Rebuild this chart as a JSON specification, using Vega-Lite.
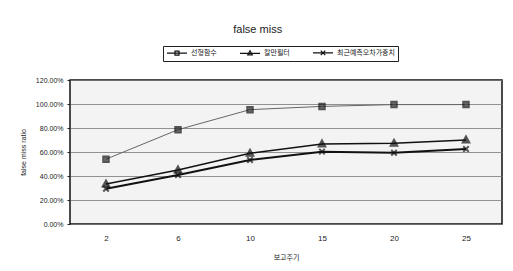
{
  "$schema": "https://vega.github.io/schema/vega-lite/v6.json",
  "width": 432,
  "height": 144,
  "autosize": "none",
  "padding": {"left": 70, "top": 80, "right": 11, "bottom": 47},
  "background": "white",
  "title": {
    "text": "false miss",
    "font": "Liberation Sans",
    "fontSize": 11,
    "fontWeight": "normal",
    "color": "#222",
    "anchor": "middle",
    "frame": "bounds",
    "offset": 11,
    "dx": -3
  },
  "data": {
    "values": [
      {"period": 2, "series": "선형함수", "ratio": 0.54},
      {"period": 6, "series": "선형함수", "ratio": 0.786},
      {"period": 10, "series": "선형함수", "ratio": 0.953},
      {"period": 15, "series": "선형함수", "ratio": 0.98},
      {"period": 20, "series": "선형함수", "ratio": 0.995},
      {"period": 25, "series": "선형함수", "ratio": 0.995},
      {"period": 2, "series": "칼만필터", "ratio": 0.333},
      {"period": 6, "series": "칼만필터", "ratio": 0.45},
      {"period": 10, "series": "칼만필터", "ratio": 0.589},
      {"period": 15, "series": "칼만필터", "ratio": 0.667},
      {"period": 20, "series": "칼만필터", "ratio": 0.672},
      {"period": 25, "series": "칼만필터", "ratio": 0.70},
      {"period": 2, "series": "최근예측오차가중치", "ratio": 0.294},
      {"period": 6, "series": "최근예측오차가중치", "ratio": 0.408},
      {"period": 10, "series": "최근예측오차가중치", "ratio": 0.533},
      {"period": 15, "series": "최근예측오차가중치", "ratio": 0.603},
      {"period": 20, "series": "최근예측오차가중치", "ratio": 0.594},
      {"period": 25, "series": "최근예측오차가중치", "ratio": 0.625}
    ]
  },
  "encoding": {
    "x": {
      "field": "period",
      "type": "ordinal",
      "title": "보고주기",
      "axis": {
        "labelAngle": 0,
        "labelFont": "Liberation Sans",
        "labelFontSize": 8,
        "labelColor": "#222",
        "labelPadding": 10,
        "ticks": false,
        "domain": false,
        "titleFont": "Noto Sans CJK KR",
        "titleFontSize": 7,
        "titleFontWeight": "normal",
        "titleColor": "#222",
        "titlePadding": 11
      }
    },
    "y": {
      "field": "ratio",
      "type": "quantitative",
      "title": "false miss ratio",
      "scale": {"domain": [0, 1.2], "nice": false},
      "axis": {
        "values": [0, 0.2, 0.4, 0.6, 0.8, 1.0, 1.2],
        "format": ".2%",
        "labelFont": "Liberation Sans",
        "labelFontSize": 7,
        "labelColor": "#222",
        "tickSize": 3,
        "tickColor": "#222",
        "labelPadding": 4,
        "domain": false,
        "gridColor": "#777",
        "gridWidth": 0.8,
        "titleFont": "Liberation Sans",
        "titleFontSize": 7,
        "titleFontWeight": "normal",
        "titleColor": "#222",
        "titlePadding": 9
      }
    }
  },
  "layer": [
    {
      "mark": {"type": "line"},
      "encoding": {
        "color": {
          "field": "series",
          "type": "nominal",
          "scale": {"domain": ["선형함수", "칼만필터", "최근예측오차가중치"], "range": ["#666666", "#111111", "#111111"]},
          "legend": null
        },
        "strokeWidth": {
          "field": "series",
          "type": "nominal",
          "scale": {"domain": ["선형함수", "칼만필터", "최근예측오차가중치"], "range": [1, 2, 2]},
          "legend": null
        }
      }
    },
    {
      "mark": {"type": "point", "filled": false, "strokeWidth": 2, "size": 30},
      "encoding": {
        "shape": {
          "field": "series",
          "type": "nominal",
          "scale": {"domain": ["선형함수", "칼만필터", "최근예측오차가중치"], "range": ["M-1,-1H1V1H-1Z", "M0,-1.3L1.2,0.9H-1.2Z", "M-1,-1L1,1M1,-1L-1,1"]},
          "legend": null
        },
        "fill": {
          "field": "series",
          "type": "nominal",
          "scale": {"domain": ["선형함수", "칼만필터", "최근예측오차가중치"], "range": ["#333333", "#111111", "#111111"]},
          "legend": null
        },
        "stroke": {"value": "#111111"}
      }
    },
    {
      "mark": {"type": "point", "opacity": 0, "strokeWidth": 1},
      "encoding": {
        "shape": {
          "field": "series",
          "type": "nominal",
          "scale": {"domain": ["선형함수", "칼만필터", "최근예측오차가중치"], "range": ["M-1,0H7M2.2,-0.8H3.8V0.8H2.2Z", "M-1,0H7M3,-1L3.9,0.6H2.1Z", "M-1,0H7M2.1,-0.9L3.9,0.9M3.9,-0.9L2.1,0.9"]},
          "legend": {
            "title": null,
            "orient": "none",
            "legendX": 93,
            "legendY": -34,
            "direction": "horizontal",
            "strokeColor": "#222",
            "padding": 3,
            "symbolSize": 25,
            "symbolOpacity": 1,
            "symbolStrokeColor": "#111",
            "symbolFillColor": "#111",
            "symbolStrokeWidth": 1.2,
            "labelOffset": 18,
            "labelFont": "Noto Sans CJK KR",
            "labelFontSize": 7,
            "labelColor": "#222",
            "columnPadding": 20
          }
        }
      }
    }
  ],
  "resolve": {"scale": {"shape": "independent"}},
  "config": {
    "view": {"stroke": "#111", "strokeWidth": 1.5, "fill": "#f3f3f3"},
    "axisX": {"grid": false}
  }
}
